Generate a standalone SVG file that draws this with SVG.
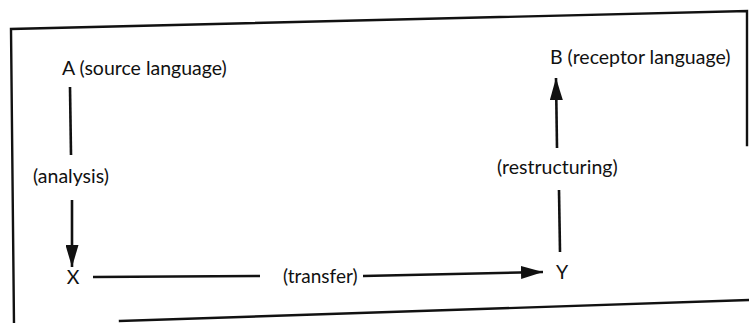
<svg xmlns="http://www.w3.org/2000/svg" width="749" height="323" viewBox="0 0 749 323">
<style>
.frame{fill:none;stroke:#111;stroke-width:2.4;stroke-linecap:square}
.conn{fill:none;stroke:#111;stroke-width:2.6}
.lbl{font-family:Lato,"Open Sans","Liberation Sans",sans-serif;font-size:19.5px;fill:#111}
</style>
<defs>
<marker id="ah" markerUnits="userSpaceOnUse" markerWidth="22" markerHeight="13" refX="22" refY="6.5" orient="auto">
<path d="M0,0 L22,6.5 L0,13 Z" fill="#111"/>
</marker>
</defs>
<rect width="749" height="323" fill="#fff"/>
<g id="frame">
<path class="frame" d="M14,325 L11,29 L747,11 L747,145"/>
<path class="frame" d="M120,321 L751,300"/>
</g>
<g id="connectors">
<line class="conn" x1="70" y1="87" x2="71" y2="155"/>
<line class="conn" x1="72" y1="200" x2="72" y2="267" marker-end="url(#ah)"/>
<line class="conn" x1="93" y1="277" x2="260" y2="276"/>
<line class="conn" x1="363" y1="276" x2="543" y2="272" marker-end="url(#ah)"/>
<line class="conn" x1="560" y1="252" x2="559" y2="190"/>
<line class="conn" x1="557" y1="148" x2="556" y2="78" marker-end="url(#ah)"/>
</g>
<g id="node-A"><text class="lbl" x="62" y="75">A (source language)</text></g>
<g id="node-B"><text class="lbl" x="550" y="64">B (receptor language)</text></g>
<g id="node-X"><text class="lbl" x="73" y="284" text-anchor="middle">X</text></g>
<g id="node-Y"><text class="lbl" x="562" y="279" text-anchor="middle">Y</text></g>
<g id="label-analysis"><text class="lbl" x="33" y="183">(analysis)</text></g>
<g id="label-transfer"><text class="lbl" x="283" y="283" style="font-size:19px">(transfer)</text></g>
<g id="label-restructuring"><text class="lbl" x="497" y="174">(restructuring)</text></g>
</svg>
